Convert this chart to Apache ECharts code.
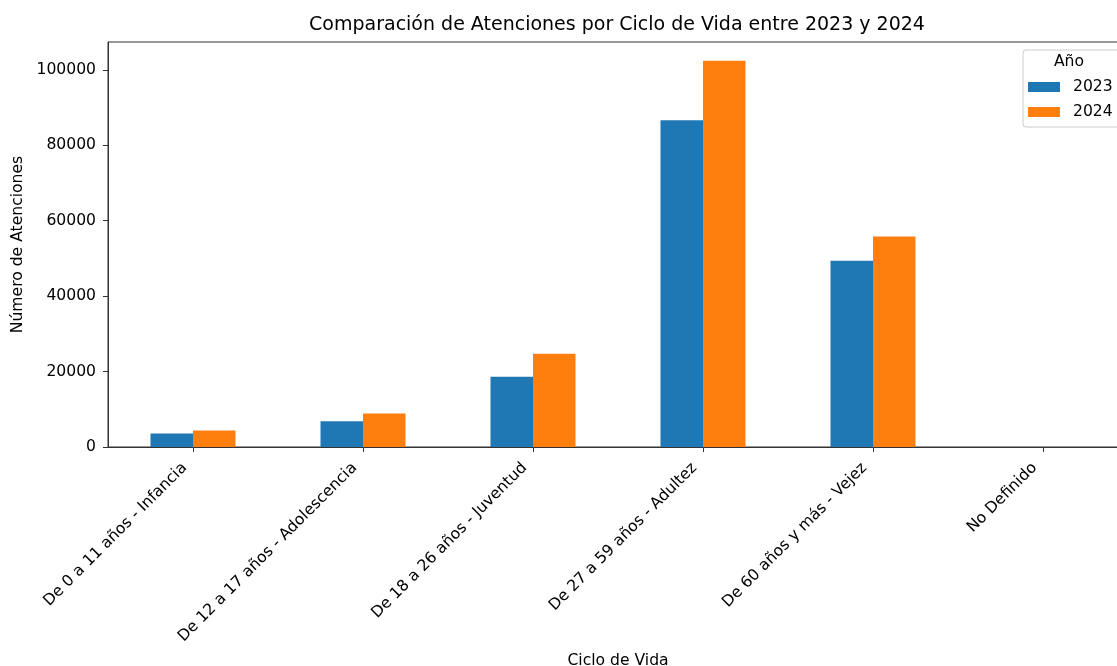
<!DOCTYPE html>
<html>
<head>
<meta charset="utf-8">
<script src="https://cdn.jsdelivr.net/npm/echarts@6/dist/echarts.min.js"></script>
<style>
html,body{margin:0;padding:0;background:#fff;}
#chart{width:1117px;height:666px;}
</style>
</head>
<body>
<div id="chart"></div>
<script>
var categories = [
  'De 0 a 11 años - Infancia',
  'De 12 a 17 años - Adolescencia',
  'De 18 a 26 años - Juventud',
  'De 27 a 59 años - Adultez',
  'De 60 años y más - Vejez',
  'No Definido'
];
var values2023 = [3600, 6800, 18650, 86650, 49400, 0];
var values2024 = [4400, 8900, 24750, 102400, 55800, 0];
var yTicks = [0, 20000, 40000, 60000, 80000, 100000];
var seriesNames = ['2023', '2024'];

var FONT = 'DejaVu Sans';
var FS = 15.6;
var chart = echarts.init(document.getElementById('chart'), null, {renderer: 'canvas'});
chart.setOption({
  animation: false,
  backgroundColor: '#fff',
  textStyle: {fontFamily: FONT},
  grid: {left: 108, top: 42, right: -11, bottom: 219, containLabel: false, outerBoundsMode: 'none', show: true, borderColor: '#333', borderWidth: 1},
  graphic: [
    {type: 'text', x: 617, y: 25, style: {text: 'Comparación de Atenciones por Ciclo de Vida entre 2023 y 2024', font: '19px "DejaVu Sans"', fill: '#000', align: 'center', verticalAlign: 'middle'}, z: 100},
    {type: 'text', x: 1069, y: 62, style: {text: 'Año', font: FS + 'px "DejaVu Sans"', fill: '#000', align: 'center', verticalAlign: 'middle'}, z: 100}
  ],
  legend: {
    data: seriesNames,
    orient: 'vertical',
    left: 1023,
    top: 50,
    padding: [29, 20, 7, 5],
    itemWidth: 32,
    itemHeight: 10,
    itemGap: 9,
    icon: 'rect',
    borderColor: '#ccc',
    borderWidth: 1,
    borderRadius: 3,
    backgroundColor: '#fff',
    textStyle: {fontFamily: FONT, fontSize: FS, color: '#000', padding: [0, 0, 0, 8]}
  },
  xAxis: {
    type: 'category',
    data: categories,
    name: 'Ciclo de Vida',
    nameLocation: 'middle',
    nameGap: 206,
    nameTextStyle: {fontFamily: FONT, fontSize: FS, color: '#000'},
    axisLine: {lineStyle: {color: '#333', width: 1}},
    axisTick: {show: true, alignWithLabel: true, length: 5, lineStyle: {color: '#333'}},
    axisLabel: {rotate: 45, fontFamily: FONT, fontSize: FS, color: '#000', margin: 10, interval: 0, padding: [0, 12, 0, 0]},
    splitLine: {show: false}
  },
  yAxis: {
    type: 'value',
    min: 0,
    max: 107400,
    interval: 20000,
    name: 'Número de Atenciones',
    nameLocation: 'middle',
    nameGap: 77,
    nameTextStyle: {fontFamily: FONT, fontSize: FS, color: '#000'},
    axisLine: {show: true, lineStyle: {color: '#333', width: 1}},
    axisTick: {show: true, length: 5, lineStyle: {color: '#333'}, customValues: yTicks},
    axisLabel: {fontFamily: FONT, fontSize: FS, color: '#000', margin: 12, customValues: yTicks, formatter: function (v) { return String(v); }},
    splitLine: {show: false}
  },
  series: [
    {name: seriesNames[0], type: 'bar', data: values2023, itemStyle: {color: '#1f77b4'}, barGap: '0%', barCategoryGap: '50%'},
    {name: seriesNames[1], type: 'bar', data: values2024, itemStyle: {color: '#ff7f0e'}, barGap: '0%', barCategoryGap: '50%'}
  ]
});
</script>
</body>
</html>
